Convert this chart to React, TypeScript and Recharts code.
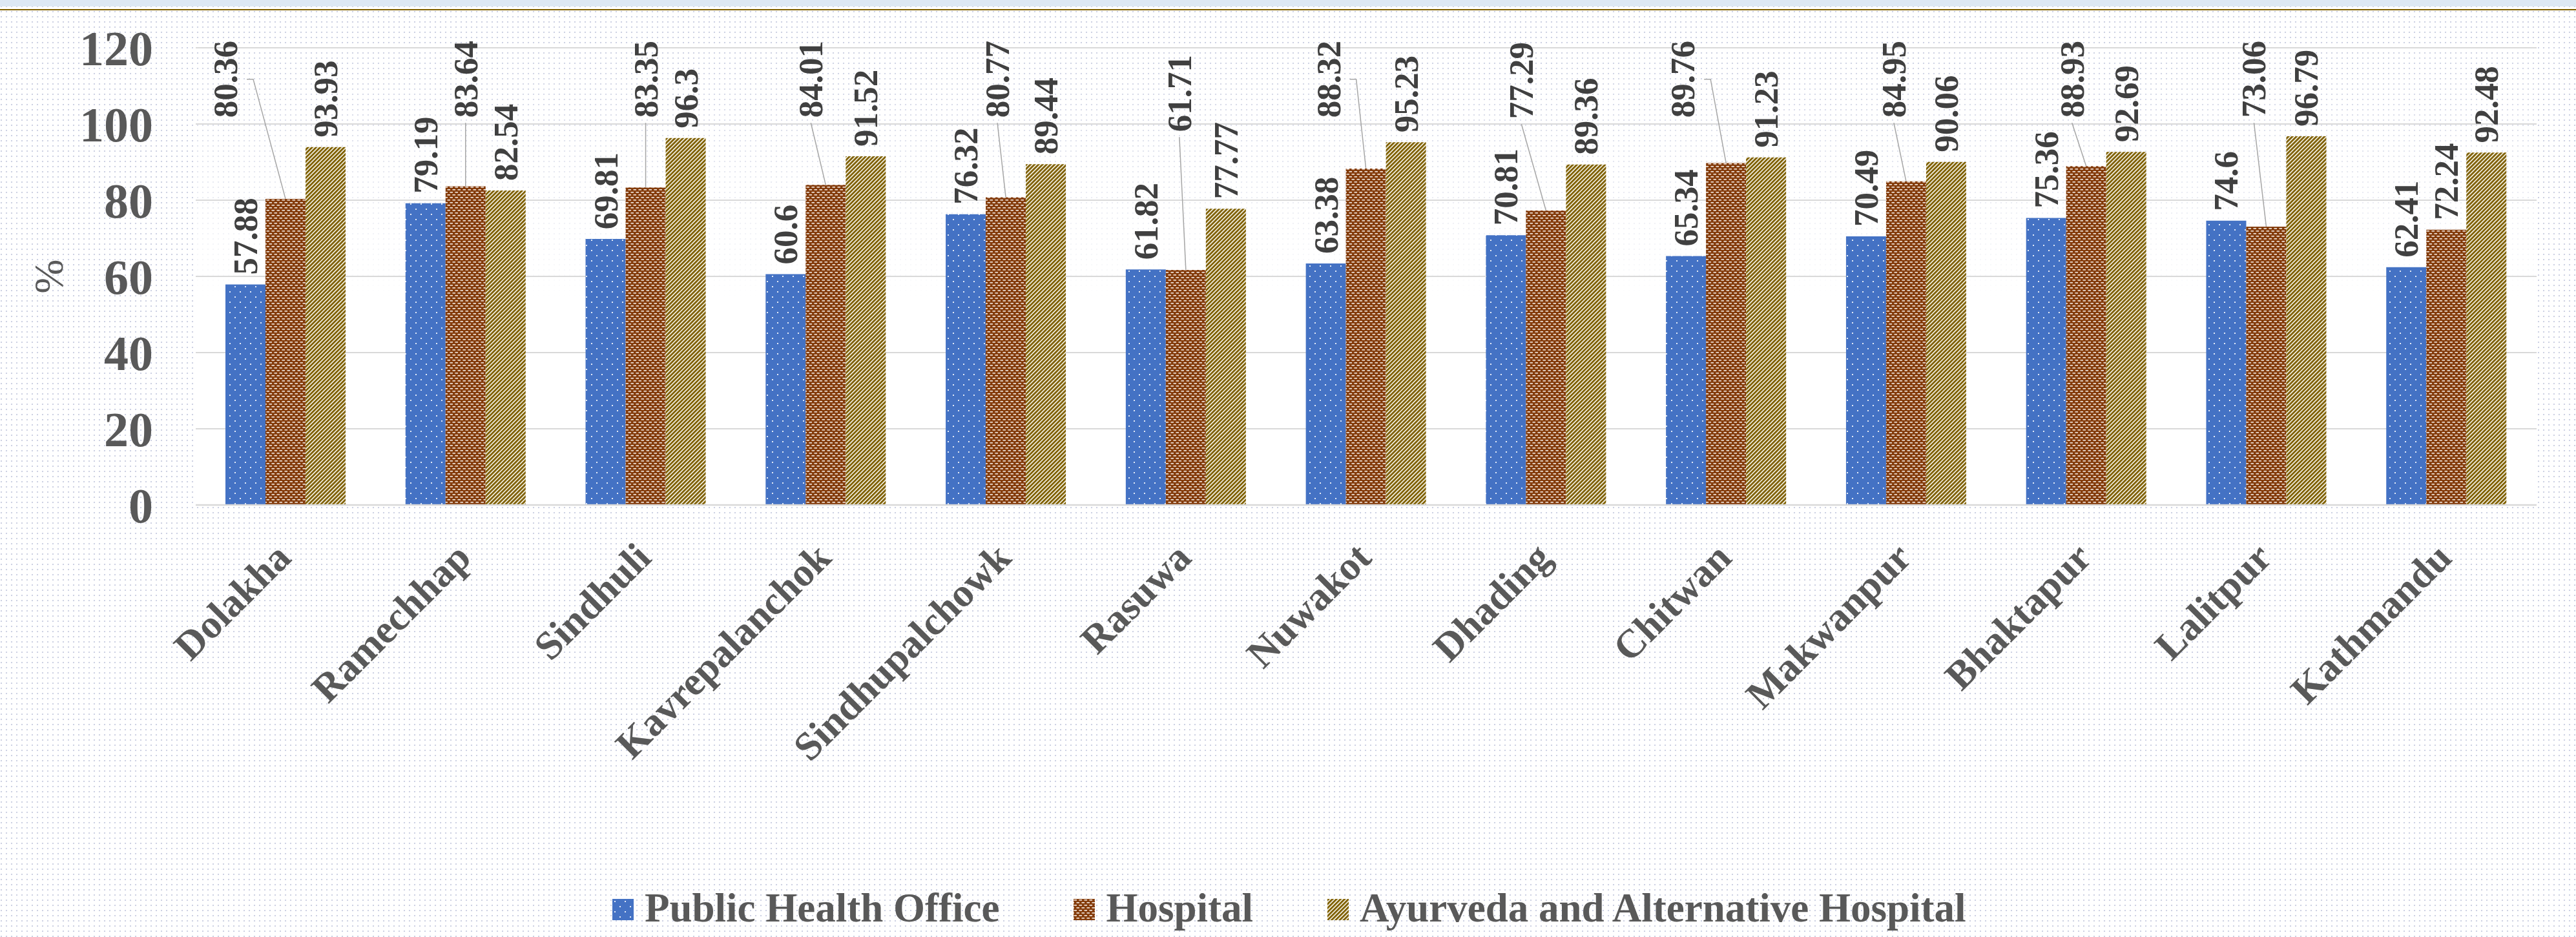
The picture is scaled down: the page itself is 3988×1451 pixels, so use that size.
import { BarChart, Bar, XAxis, YAxis, CartesianGrid, LabelList, Legend } from "recharts";

const DISTRICTS = [
  "Dolakha", "Ramechhap", "Sindhuli", "Kavrepalanchok", "Sindhupalchowk", "Rasuwa", "Nuwakot",
  "Dhading", "Chitwan", "Makwanpur", "Bhaktapur", "Lalitpur", "Kathmandu",
];
const PUBLIC_HEALTH_OFFICE = [57.88, 79.19, 69.81, 60.6, 76.32, 61.82, 63.38, 70.81, 65.34, 70.49, 75.36, 74.6, 62.41];
const HOSPITAL = [80.36, 83.64, 83.35, 84.01, 80.77, 61.71, 88.32, 77.29, 89.76, 84.95, 88.93, 73.06, 72.24];
const AYURVEDA = [93.93, 82.54, 96.3, 91.52, 89.44, 77.77, 95.23, 89.36, 91.23, 90.06, 92.69, 96.79, 92.48];
const Y_TICKS = [0, 20, 40, 60, 80, 100, 120];

const SERIES = [
  { key: "pho", name: "Public Health Office", fill: "url(#patDots)" },
  { key: "hosp", name: "Hospital", fill: "url(#patBrick)" },
  { key: "ayur", name: "Ayurveda and Alternative Hospital", fill: "url(#patStripe)" },
];

const data = DISTRICTS.map((name, i) => ({
  name,
  pho: PUBLIC_HEALTH_OFFICE[i],
  hosp: HOSPITAL[i],
  ayur: AYURVEDA[i],
}));

const SERIF = "'Liberation Serif', 'Times New Roman', serif";
const W = 3988;
const H = 1451;
const VAL_FONT = 53;

// hospital labels were dragged up in the original and got leader lines
const MOVED: Record<string, { dx: number; top: number; side?: boolean }> = {
  Dolakha: { dx: -93, top: 63, side: true },
  Ramechhap: { dx: 0, top: 63 },
  Sindhuli: { dx: 0, top: 63 },
  Kavrepalanchok: { dx: -23, top: 63 },
  Sindhupalchowk: { dx: -13, top: 63 },
  Rasuwa: { dx: -10, top: 85 },
  Nuwakot: { dx: -58, top: 63, side: true },
  Dhading: { dx: -38, top: 65 },
  Chitwan: { dx: -67, top: 63, side: true },
  Makwanpur: { dx: -19, top: 63 },
  Bhaktapur: { dx: -22, top: 63 },
  Lalitpur: { dx: -19, top: 63 },
};

const textLen = (s: string) =>
  s.split("").reduce((acc, c) => acc + (c === "." ? 0.25 : 0.5), 0) * VAL_FONT;

const valueTextProps = {
  fontFamily: SERIF,
  fontWeight: 700,
  fontSize: VAL_FONT,
  fill: "#404040",
  dominantBaseline: "central" as const,
};

function ValueLabel(props: any) {
  const { x, y, width, value } = props;
  const cx = x + width / 2;
  const bottom = y - 15;
  return (
    <text {...valueTextProps} x={cx} y={bottom} transform={`rotate(-90 ${cx} ${bottom})`} textAnchor="start">
      {value}
    </text>
  );
}

function HospitalLabel(props: any) {
  const { x, y, width, value, index } = props;
  const m = MOVED[DISTRICTS[index]];
  if (!m) return <ValueLabel {...props} />;
  const cx = x + width / 2;
  const lx = cx + m.dx;
  const len = textLen(String(value));
  const top = m.top;
  let leader;
  if (m.side) {
    const sx = lx + 33;
    const sy = top + len / 2;
    leader = <polyline points={`${sx},${sy} ${sx + 10},${sy} ${cx},${y}`} fill="none" stroke="#A6A6A6" strokeWidth={1.5} />;
  } else {
    leader = <line x1={lx} y1={top + len + 8} x2={cx} y2={y} stroke="#A6A6A6" strokeWidth={1.5} />;
  }
  return (
    <g>
      {leader}
      <text {...valueTextProps} x={lx} y={top} transform={`rotate(-90 ${lx} ${top})`} textAnchor="end">
        {value}
      </text>
    </g>
  );
}

function DistrictTick({ x, y, payload }: any) {
  const ax = x + 11;
  const ay = y + 85;
  return (
    <text
      x={ax}
      y={ay}
      transform={`rotate(-45 ${ax} ${ay})`}
      textAnchor="end"
      fontFamily={SERIF}
      fontWeight={700}
      fontSize={62}
      fill="#595959"
    >
      {payload.value}
    </text>
  );
}

function PercentLabel({ viewBox }: any) {
  const cx = viewBox.x + 75;
  const cy = viewBox.y + viewBox.height / 2;
  return (
    <text
      x={cx}
      y={cy}
      transform={`rotate(-90 ${cx} ${cy})`}
      textAnchor="middle"
      dominantBaseline="central"
      fontFamily={SERIF}
      fontSize={64}
      fill="#595959"
    >
      %
    </text>
  );
}

function LegendRow() {
  return (
    <div
      style={{
        display: "flex",
        alignItems: "center",
        height: 63,
        paddingLeft: 948,
        fontFamily: SERIF,
        fontWeight: 700,
        fontSize: 63,
        lineHeight: "63px",
        color: "#595959",
        whiteSpace: "nowrap",
      }}
    >
      {SERIES.map((s, i) => (
        <div key={s.key} style={{ display: "flex", alignItems: "center", marginLeft: i ? 115 : 0 }}>
          <svg width={33} height={33} style={{ marginRight: 17, marginTop: 4 }}>
            <rect width={33} height={33} fill={s.fill} />
          </svg>
          <span>{s.name}</span>
        </div>
      ))}
    </div>
  );
}

function Patterns() {
  return (
    <svg width={0} height={0} style={{ position: "absolute" }}>
      <defs>
        <pattern id="patDots" width={16} height={16} patternUnits="userSpaceOnUse">
          <rect width={16} height={16} fill="#4472C4" />
          <rect x={3} y={3} width={2} height={2} fill="#FFFFFF" opacity={0.85} />
          <rect x={11} y={11} width={2} height={2} fill="#FFFFFF" opacity={0.85} />
        </pattern>
        <pattern id="patBrick" width={8} height={8} patternUnits="userSpaceOnUse">
          <rect width={8} height={8} fill="#843C0C" />
          <rect x={0.5} y={1} width={4.5} height={1.6} fill="#F4E8E0" />
          <rect x={4.5} y={5} width={3.5} height={1.6} fill="#F4E8E0" />
          <rect x={0} y={5} width={1} height={1.6} fill="#F4E8E0" />
        </pattern>
        <pattern id="patStripe" width={4.4} height={4.4} patternUnits="userSpaceOnUse" patternTransform="rotate(45)">
          <rect width={4.4} height={4.4} fill="#FFFFFF" />
          <rect width={2.9} height={4.4} fill="#7F6000" />
        </pattern>
        <linearGradient id="plotFade" x1="0" y1="0" x2="0" y2="1">
          <stop offset="0" stopColor="#FFFFFF" stopOpacity={0} />
          <stop offset="0.55" stopColor="#FFFFFF" stopOpacity={1} />
          <stop offset="1" stopColor="#FFFFFF" stopOpacity={1} />
        </linearGradient>
      </defs>
    </svg>
  );
}

export default function App() {
  return (
    <div
      style={{
        position: "absolute",
        left: 0,
        top: 0,
        width: W,
        height: H,
        overflow: "hidden",
        backgroundColor: "#FFFFFF",
        backgroundImage: "radial-gradient(circle at 2px 2px, #CDD1E3 1px, transparent 1.6px)",
        backgroundSize: "8px 8px",
      }}
    >
      <Patterns />
      <div style={{ position: "absolute", left: 0, top: 0, width: W, height: 10, background: "#DDE8F3" }} />
      <div style={{ position: "absolute", left: 0, top: 14, width: W, height: 2, background: "#7F6000" }} />
      <BarChart
        width={W}
        height={H}
        data={data}
        margin={{ top: 74, right: 61, left: 0, bottom: 0 }}
        barGap={0}
        barSize={62}
      >
        <CartesianGrid vertical={false} stroke="#D9D9D9" strokeWidth={2} fill="url(#plotFade)" fillOpacity={1} />
        <XAxis
          dataKey="name"
          interval={0}
          tickLine={false}
          tickSize={0}
          tickMargin={0}
          height={606}
          axisLine={{ stroke: "#D9D9D9", strokeWidth: 2.5 }}
          tick={<DistrictTick />}
        />
        <YAxis
          type="number"
          domain={[0, 120]}
          ticks={Y_TICKS}
          width={303}
          axisLine={false}
          tickLine={false}
          tickSize={0}
          tickMargin={66}
          tick={{ fontFamily: SERIF, fontWeight: 700, fontSize: 76, fill: "#595959" }}
          label={PercentLabel}
        />
        <Legend
          verticalAlign="bottom"
          wrapperStyle={{ left: 0, top: 1375, bottom: "auto", width: W, height: 63 }}
          content={() => <LegendRow />}
        />
        <Bar dataKey="pho" name={SERIES[0].name} fill={SERIES[0].fill} isAnimationActive={false}>
          <LabelList dataKey="pho" content={ValueLabel} />
        </Bar>
        <Bar dataKey="hosp" name={SERIES[1].name} fill={SERIES[1].fill} isAnimationActive={false}>
          <LabelList dataKey="hosp" content={HospitalLabel} />
        </Bar>
        <Bar dataKey="ayur" name={SERIES[2].name} fill={SERIES[2].fill} isAnimationActive={false}>
          <LabelList dataKey="ayur" content={ValueLabel} />
        </Bar>
      </BarChart>
    </div>
  );
}
